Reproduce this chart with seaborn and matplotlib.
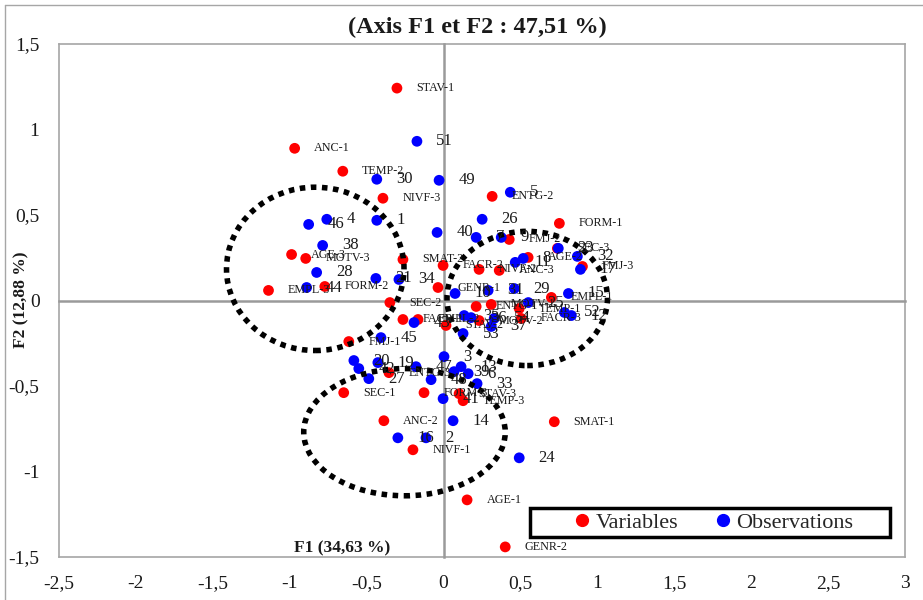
import matplotlib
matplotlib.use("Agg")
import matplotlib.pyplot as plt
import seaborn as sns
import pandas as pd
from matplotlib.patches import Ellipse, Rectangle
from matplotlib.lines import Line2D

# ---------------- data ----------------
var_labels = ["STAV-1", "ANC-1", "TEMP-2", "NIVF-3", "ENTG-2", "FORM-1", "FMJ-2", "AGE-2",
              "SEC-3", "FMJ-3", "SMAT-2", "FACR-2", "NIVF-2", "ANC-3", "GENR-1", "EMPL-1",
              "ENTG-1", "MOTV-1", "TEMP-1", "FACR-3", "MOTV-2", "STAV-2", "FACR-1", "EMPL-2",
              "SEC-2", "AGE-3", "MOTV-3", "EMPL-3", "FORM-2", "FMJ-1", "SEC-1", "ENTG-3",
              "FORM-3", "STAV-3", "TEMP-3", "ANC-2", "NIVF-1", "AGE-1", "GENR-2", "SMAT-1"]
var_f1 = [-0.303, -0.968, -0.655, -0.394, 0.316, 0.753, 0.427, 0.550,
          0.740, 0.903, -0.264, -0.003, 0.231, 0.362, -0.036, 0.701,
          0.212, 0.310, 0.492, 0.505, 0.231, 0.016, -0.264, -0.166,
          -0.349, -0.988, -0.896, -1.138, -0.772, -0.616, -0.649, -0.355,
          -0.127, 0.101, 0.127, -0.388, -0.199, 0.153, 0.401, 0.720]
var_f2 = [1.242, 0.890, 0.756, 0.598, 0.609, 0.451, 0.357, 0.252,
          0.305, 0.199, 0.240, 0.205, 0.182, 0.176, 0.076, 0.018,
          -0.035, -0.023, -0.047, -0.105, -0.117, -0.146, -0.111, -0.111,
          -0.012, 0.269, 0.246, 0.059, 0.082, -0.240, -0.539, -0.422,
          -0.539, -0.545, -0.586, -0.703, -0.873, -1.166, -1.441, -0.709]

obs_labels = ["1", "2", "3", "4", "5", "6", "7", "8", "9", "10", "11", "12", "13", "14", "15",
              "16", "17", "19", "20", "21", "23", "24", "25", "26", "27", "28", "29", "30",
              "31", "32", "33", "34", "35", "36", "37", "38", "39", "40", "41", "42", "43",
              "44", "45", "46", "47", "48", "49", "51", "52", "53", "54"]
obs_f1 = [-0.434, -0.114, 0.003, -0.759, 0.434, 0.160, 0.212, 0.518, 0.375, 0.075, 0.466,
          0.831, 0.114, 0.062, 0.812, -0.297, 0.890, -0.427, -0.583, -0.440, 0.746, 0.492,
          0.551, 0.251, -0.486, -0.825, 0.460, -0.434, 0.290, 0.870, 0.218, -0.290, 0.134,
          0.179, 0.310, -0.786, 0.068, -0.042, -0.003, -0.551, -0.192, -0.890, -0.407,
          -0.877, -0.179, -0.081, -0.029, -0.173, 0.786, 0.127, 0.329]
obs_f2 = [0.469, -0.803, -0.328, 0.475, 0.633, -0.428, 0.369, 0.246, 0.369, 0.041, 0.223,
          -0.088, -0.387, -0.703, 0.041, -0.803, 0.182, -0.363, -0.351, 0.129, 0.305, -0.920,
          -0.012, 0.475, -0.457, 0.164, 0.070, 0.709, 0.059, 0.258, -0.486, 0.123, -0.088,
          -0.100, -0.152, 0.322, -0.416, 0.398, -0.574, -0.398, -0.129, 0.076, -0.217,
          0.445, -0.387, -0.463, 0.703, 0.931, -0.070, -0.193, -0.105]

x_ticks = [-2.5, -2, -1.5, -1, -0.5, 0, 0.5, 1, 1.5, 2, 2.5, 3]
x_tick_labels = ["-2,5", "-2", "-1,5", "-1", "-0,5", "0", "0,5", "1", "1,5", "2", "2,5", "3"]
y_ticks = [-1.5, -1, -0.5, 0, 0.5, 1, 1.5]
y_tick_labels = ["-1,5", "-1", "-0,5", "0", "0,5", "1", "1,5"]

# dotted groups: (centre F1, centre F2, width, height)
group_ellipses = [(-0.834, 0.185, 1.154, 0.955),
                  (0.544, 0.012, 1.043, 0.785),
                  (-0.254, -0.770, 1.310, 0.744)]

title = "(Axis F1 et F2 : 47,51 %)"
xlabel = "F1 (34,63 %)"
ylabel = "F2 (12,88 %)"

# ---------------- figure ----------------
sns.set_style("white")
plt.rcParams["font.family"] = ["Liberation Serif", "DejaVu Serif"]

df = pd.concat([
    pd.DataFrame({"F1": var_f1, "F2": var_f2, "lab": var_labels, "Type": "Variables"}),
    pd.DataFrame({"F1": obs_f1, "F2": obs_f2, "lab": obs_labels, "Type": "Observations"}),
], ignore_index=True)

fig = plt.figure(figsize=(9.23, 6), dpi=100)
fig.patch.set_facecolor("white")
pos = [59 / 923, 43 / 600, 846 / 923, 513 / 600]
ax_bg = fig.add_axes(pos)
ax = fig.add_axes(pos, sharex=ax_bg, sharey=ax_bg)
ax_bg.set_zorder(0)
ax.set_zorder(1)
ax.patch.set_visible(False)

grey_box = "#a6a6a6"
grey_ax = "#9a9a9a"

# background axes: frame + tick labels
ax_bg.set_xlim(-2.5, 3)
ax_bg.set_ylim(-1.5, 1.5)
ax_bg.set_xticks(x_ticks)
ax_bg.set_xticklabels(x_tick_labels)
ax_bg.set_yticks(y_ticks)
ax_bg.set_yticklabels(y_tick_labels)
for s in ax_bg.spines.values():
    s.set_color(grey_box)
    s.set_linewidth(1.2)
ax_bg.tick_params(axis="both", length=0, labelsize=14, colors="#1a1a1a")
ax_bg.tick_params(axis="x", pad=13)
ax_bg.tick_params(axis="y", pad=14)

# front axes: zero-crossing axes with cross ticks
for side in ["top", "right"]:
    ax.spines[side].set_visible(False)
for side in ["left", "bottom"]:
    ax.spines[side].set_position(("data", 0))
    ax.spines[side].set_color(grey_ax)
    ax.spines[side].set_linewidth(1.8)
ax.tick_params(axis="both", direction="inout", length=9.5, width=1.3, color=grey_ax,
               labelleft=False, labelbottom=False)

sns.scatterplot(data=df, x="F1", y="F2", hue="Type",
                palette={"Variables": "#ff0000", "Observations": "#0000ff"},
                s=60, linewidth=0, legend=False, ax=ax, zorder=3, clip_on=False)
ax.set_xlabel("")
ax.set_ylabel("")
ax_bg.set_xlabel("")
ax_bg.set_ylabel("")
ax.set_xlim(-2.5, 3)
ax.set_ylim(-1.5, 1.5)

for _, r in df.iterrows():
    if r["Type"] == "Variables":
        ax.annotate(r["lab"], (r["F1"], r["F2"]), xytext=(14, 0), textcoords="offset points",
                    fontsize=8.7, va="center", ha="left", color="#1a1a1a", zorder=6)
    else:
        ax.annotate(r["lab"], (r["F1"], r["F2"]), xytext=(14, 0), textcoords="offset points",
                    fontsize=12, va="center", ha="left", color="#1a1a1a", zorder=6)

for cx, cy, w, h in group_ellipses:
    ax.add_patch(Ellipse((cx, cy), w, h, fill=False, ec="black", lw=4.0,
                         ls=(0, (1, 1)), zorder=5))

# texts
fig.text(0.517, 1 - 27 / 600, title, ha="center", va="center", fontsize=17.5,
         fontweight="bold", color="#1a1a1a")
fig.text(21 / 923, 1 - 300 / 600, ylabel, ha="center", va="center", rotation=90,
         fontsize=12.5, fontweight="bold", color="#1a1a1a")
ax.text((342 - 59) / 846, (557 - 548) / 513, xlabel, transform=ax.transAxes,
        ha="center", va="center", fontsize=12.5, fontweight="bold", color="#1a1a1a", zorder=6)

# legend
ax.add_patch(Rectangle(((530 - 59) / 846, (557 - 537) / 513), 360 / 846, 29 / 513,
                       transform=ax.transAxes, facecolor="white", edgecolor="black",
                       lw=2.5, zorder=7, clip_on=False))
handles = [Line2D([], [], marker="o", ls="", color="#ff0000", markersize=8.5, label="Variables"),
           Line2D([], [], marker="o", ls="", color="#0000ff", markersize=8.5, label="Observations")]
leg = ax.legend(handles=handles, loc="center", bbox_to_anchor=((712 - 59) / 846, (557 - 522.5) / 513),
                ncol=2, frameon=False, fontsize=16, handletextpad=0.1, columnspacing=1.5,
                handlelength=1.0, borderpad=0.1)
leg.set_zorder(8)

# outer chart border (left and top)
fig.add_artist(Line2D([5 / 923, 5 / 923], [0, 1 - 5 / 600], transform=fig.transFigure,
                      color="#a6a6a6", lw=1))
fig.add_artist(Line2D([5 / 923, 1], [1 - 5 / 600, 1 - 5 / 600], transform=fig.transFigure,
                      color="#a6a6a6", lw=1))

fig.savefig("out.png", dpi=100, facecolor="white")
